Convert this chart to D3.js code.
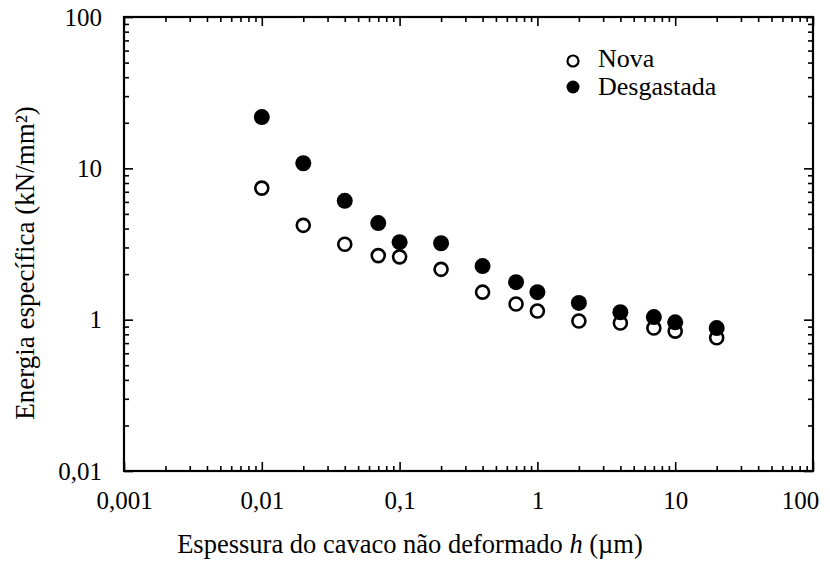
<!DOCTYPE html>
<html>
<head>
<meta charset="utf-8">
<script src="https://cdn.jsdelivr.net/npm/d3@7"></script>
</head>
<body style="margin:0">
<script>
// ---- data ----
const hValues      = [0.01, 0.02, 0.04, 0.07, 0.1, 0.2, 0.4, 0.7, 1, 2, 4, 7, 10, 20];
const novaValues   = [7.4, 4.2, 3.15, 2.65, 2.6, 2.15, 1.52, 1.27, 1.14, 0.98, 0.95, 0.88, 0.84, 0.76];
const desgValues   = [21.8, 10.8, 6.1, 4.35, 3.25, 3.2, 2.26, 1.77, 1.52, 1.29, 1.12, 1.04, 0.96, 0.88];
const xTickValues  = [0.001, 0.01, 0.1, 1, 10, 100];
const xTickLabels  = ["0,001", "0,01", "0,1", "1", "10", "100"];
const yTickValues  = [0.1, 1, 10, 100];
const yTickLabels  = ["0,01", "1", "10", "100"];
const seriesNames  = ["Nova", "Desgastada"];
const xTitle       = ["Espessura do cavaco não deformado ", "h", " (µm)"];
const yTitle       = "Energia específica (kN/mm²)";

const FONT = "Liberation Serif";
const W = 830, H = 575;
const L = 124, R = 813, T = 17, B = 471;

const svg = d3.select("body").append("svg").attr("width", W).attr("height", H);

const x = d3.scaleLog().domain([0.001, 100]).range([L, R]);
const y = d3.scaleLog().domain([0.1, 100]).range([B, T]);

const isDecade = v => Math.abs(Math.log10(v) - Math.round(Math.log10(v))) < 1e-9;
const xMinor = x.ticks().filter(v => !isDecade(v));
const yMinor = y.ticks().filter(v => !isDecade(v));

function styleAxis(g) {
  g.attr("font-family", null).attr("font-size", null);
  g.select(".domain").remove();
  g.selectAll(".tick line").attr("stroke", "#000").attr("stroke-width", 1.6);
}

// minor ticks (inward, all four sides)
svg.append("g").attr("transform", `translate(0,${B})`)
  .call(d3.axisBottom(x).tickValues(xMinor).tickSize(-5).tickFormat("")).call(styleAxis);
svg.append("g").attr("transform", `translate(0,${T})`)
  .call(d3.axisTop(x).tickValues(xMinor).tickSize(-5).tickFormat("")).call(styleAxis);
svg.append("g").attr("transform", `translate(${L},0)`)
  .call(d3.axisLeft(y).tickValues(yMinor).tickSize(-5).tickFormat("")).call(styleAxis);
svg.append("g").attr("transform", `translate(${R},0)`)
  .call(d3.axisRight(y).tickValues(yMinor).tickSize(-5).tickFormat("")).call(styleAxis);

// major ticks
const xAx = svg.append("g").attr("transform", `translate(0,${B})`)
  .call(d3.axisBottom(x).tickValues(xTickValues).tickSize(-9).tickPadding(20)
    .tickFormat((d, i) => xTickLabels[i])).call(styleAxis);
xAx.selectAll("text").attr("font-size", 25).attr("dy", "0.71em")
  .attr("dx", (d, i) => i === xTickValues.length - 1 ? -13 : 0);
svg.append("g").attr("transform", `translate(0,${T})`)
  .call(d3.axisTop(x).tickValues(xTickValues).tickSize(-9).tickFormat("")).call(styleAxis);
const yAx = svg.append("g").attr("transform", `translate(${L},0)`)
  .call(d3.axisLeft(y).tickValues(yTickValues).tickSize(-9).tickPadding(22)
    .tickFormat((d, i) => yTickLabels[i])).call(styleAxis);
yAx.selectAll("text").attr("font-size", 25);
svg.append("g").attr("transform", `translate(${R},0)`)
  .call(d3.axisRight(y).tickValues(yTickValues).tickSize(-9).tickFormat("")).call(styleAxis);

// frame
svg.append("rect").attr("x", L).attr("y", T).attr("width", R - L).attr("height", B - T)
  .attr("fill", "none").attr("stroke", "#000").attr("stroke-width", 2.2);

// points: open first, filled on top
svg.append("g").selectAll("circle").data(hValues).join("circle")
  .attr("cx", d => x(d)).attr("cy", (d, i) => y(novaValues[i])).attr("r", 6.5)
  .attr("fill", "#fff").attr("stroke", "#000").attr("stroke-width", 2.6);
svg.append("g").selectAll("circle").data(hValues).join("circle")
  .attr("cx", d => x(d)).attr("cy", (d, i) => y(desgValues[i])).attr("r", 8)
  .attr("fill", "#000");

// legend
svg.append("circle").attr("cx", 573).attr("cy", 61).attr("r", 5.5)
  .attr("fill", "#fff").attr("stroke", "#000").attr("stroke-width", 2.2);
svg.append("circle").attr("cx", 573).attr("cy", 87).attr("r", 6.5).attr("fill", "#000");
svg.append("text").attr("x", 598).attr("y", 67).attr("font-size", 26).text(seriesNames[0]);
svg.append("text").attr("x", 598).attr("y", 95).attr("font-size", 26).text(seriesNames[1]);

// axis titles
const xt = svg.append("text").attr("x", 410).attr("y", 553).attr("text-anchor", "middle")
  .attr("font-size", 26.5);
xt.append("tspan").text(xTitle[0]);
xt.append("tspan").attr("font-style", "italic").text(xTitle[1]);
xt.append("tspan").text(xTitle[2]);

svg.append("text").attr("transform", "translate(34,263) rotate(-90)")
  .attr("text-anchor", "middle").attr("font-size", 27).text(yTitle);

// apply the serif face to every text element directly
svg.selectAll("text").attr("font-family", FONT).style("font-family", FONT).attr("fill", "#000");
</script>
</body>
</html>
